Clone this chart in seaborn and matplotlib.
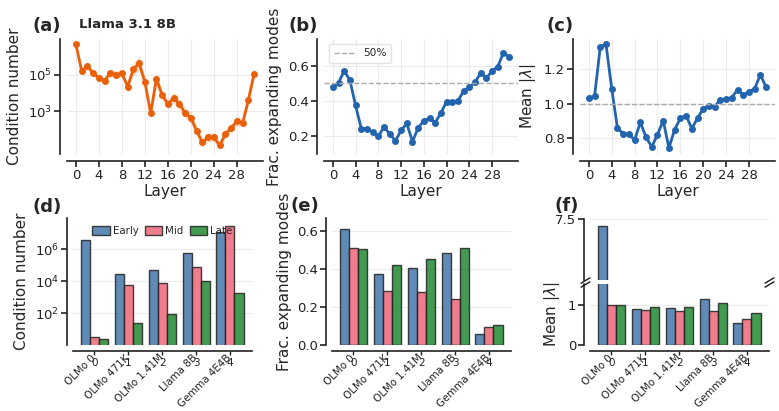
import numpy as np
import pandas as pd
import matplotlib
matplotlib.use("Agg")
import matplotlib.pyplot as plt
from matplotlib.ticker import NullLocator
import seaborn as sns

# ---------------- data ----------------
layers = list(range(32))
cond_number = [4.9e6, 1.66e5, 3.2e5, 1.23e5, 7.1e4, 4.9e4, 1.35e5, 1.05e5, 1.23e5, 2.3e4,
               2.1e5, 4.4e5, 4.1e4, 780, 6.0e4, 7.9e3, 2.5e3, 5.4e3, 2.6e3, 810,
               450, 85, 19.5, 37, 38, 13.5, 56, 120, 280, 220, 4.2e3, 1.17e5]
cond_spread_dex = [0.1, 0.2, 0.2, 0.15, 0.15, 0.15, 0.2, 0.2, 0.2, 0.2,
                   0.35, 0.4, 0.3, 0.25, 0.4, 0.25, 0.25, 0.3, 0.3, 0.3,
                   0.3, 0.3, 0.25, 0.25, 0.25, 0.2, 0.25, 0.25, 0.25, 0.2, 0.3, 0.35]
frac_expanding = [0.476, 0.503, 0.570, 0.518, 0.373, 0.24, 0.24, 0.22, 0.196, 0.25,
                  0.21, 0.17, 0.23, 0.27, 0.166, 0.245, 0.285, 0.30, 0.275, 0.33,
                  0.395, 0.393, 0.40, 0.455, 0.478, 0.505, 0.56, 0.53, 0.57, 0.595, 0.675, 0.65]
mean_lambda = [1.033, 1.044, 1.329, 1.342, 1.085, 0.858, 0.827, 0.823, 0.790, 0.892,
               0.806, 0.750, 0.821, 0.902, 0.744, 0.850, 0.915, 0.931, 0.856, 0.915,
               0.971, 0.988, 0.983, 1.023, 1.025, 1.035, 1.081, 1.050, 1.069, 1.087, 1.167, 1.094]

models = ["OLMo 0", "OLMo 471K", "OLMo 1.41M", "Llama 8B", "Gemma 4E4B"]
periods = ["Early", "Mid", "Late"]
bar_cond_early = [3.6e6, 2.6e4, 4.7e4, 5.4e5, 1.2e7]
bar_cond_mid = [3.2, 5.6e3, 7.7e3, 7.2e4, 2.6e7]
bar_cond_late = [2.4, 25, 90, 1.0e4, 1.9e3]
bar_frac_early = [0.614, 0.372, 0.407, 0.487, 0.060]
bar_frac_mid = [0.511, 0.285, 0.281, 0.241, 0.094]
bar_frac_late = [0.508, 0.421, 0.453, 0.514, 0.106]
bar_lam_early = [7.1, 0.90, 0.91, 1.15, 0.55]
bar_lam_mid = [1.0, 0.86, 0.84, 0.84, 0.65]
bar_lam_late = [1.0, 0.95, 0.95, 1.04, 0.79]

# ---------------- style ----------------
sns.set_theme(style="ticks")
plt.rcParams["font.family"] = ["DejaVu Sans"]
plt.rcParams["axes.edgecolor"] = "#222222"
plt.rcParams["axes.linewidth"] = 1.2
plt.rcParams["xtick.color"] = "#222222"
plt.rcParams["ytick.color"] = "#222222"
plt.rcParams["grid.color"] = "#ebebeb"
plt.rcParams["grid.linewidth"] = 0.8

ORANGE = "#e8600a"
BLUE = "#2264ad"
bar_pal = {"Early": "#4477AA", "Mid": "#EE6677", "Late": "#228833"}

W, H = 779, 411
fig = plt.figure(figsize=(W / 100, H / 100), dpi=100)


def ax_px(l, t, r, b):
    return fig.add_axes([l / W, 1 - b / H, (r - l) / W, (b - t) / H])


TICK_FS = 9.5
LAB_FS = 11

# ---------------- top row ----------------
df_line = pd.DataFrame({"layer": layers, "cond": cond_number, "frac": frac_expanding,
                        "lam": mean_lambda, "spread": cond_spread_dex})

axa = ax_px(67, 39, 263, 154)
axa.set_yscale("log")
lo = df_line["cond"] / 10 ** df_line["spread"]
hi = df_line["cond"] * 10 ** df_line["spread"]
axa.fill_between(df_line["layer"], lo, hi, color=ORANGE, alpha=0.2, lw=0)
sns.lineplot(data=df_line, x="layer", y="cond", ax=axa, color=ORANGE, marker="o",
             markersize=5, markeredgewidth=0, lw=2)
axa.set_ylim(4.5, 9.5e6)
axa.set_yticks([1e3, 1e5])
axa.yaxis.set_minor_locator(NullLocator())
axa.set_ylabel("Condition number", fontsize=LAB_FS)

axb = ax_px(324, 39, 518, 154)
sns.lineplot(data=df_line, x="layer", y="frac", ax=axb, color=BLUE, marker="o",
             markersize=5, markeredgewidth=0, lw=2)
axb.axhline(0.5, ls="--", color="#aaaaaa", lw=1, label="50%")
axb.set_ylim(0.095, 0.753)
axb.set_yticks([0.2, 0.4, 0.6])
axb.set_ylabel("Frac. expanding modes", fontsize=LAB_FS)
leg = axb.legend(handles=[axb.lines[-1]], labels=["50%"], loc="upper left", fontsize=7.6,
                 frameon=True, handlelength=2.0, borderpad=0.4, fancybox=True)
leg.get_frame().set_edgecolor("#dddddd")

axc = ax_px(580, 39, 775, 154)
sns.lineplot(data=df_line, x="layer", y="lam", ax=axc, color=BLUE, marker="o",
             markersize=5, markeredgewidth=0, lw=2)
axc.axhline(1.0, ls="--", color="#aaaaaa", lw=1)
axc.set_ylim(0.709, 1.373)
axc.set_yticks([0.8, 1.0, 1.2])
axc.set_ylabel(r"Mean $|\lambda|$", fontsize=LAB_FS)

for ax in (axa, axb, axc):
    sns.despine(ax=ax, offset=5)
    ax.set_xticks(range(0, 29, 4))
    ax.set_xlim(-1.55, 32.55)
    ax.grid(True, which="major")
    ax.set_axisbelow(True)
    ax.set_xlabel("Layer", fontsize=LAB_FS, labelpad=1)
    ax.tick_params(labelsize=TICK_FS, length=4, width=1.2, pad=2)

fig.text(79 / W, 1 - 18 / H, "Llama 3.1 8B", fontsize=9.5, fontweight="bold", va="top")

# ---------------- bottom row ----------------
def long_df(e, m, l):
    rows = []
    for i, mod in enumerate(models):
        rows += [(mod, "Early", e[i]), (mod, "Mid", m[i]), (mod, "Late", l[i])]
    return pd.DataFrame(rows, columns=["model", "period", "value"])


df_cond = long_df(bar_cond_early, bar_cond_mid, bar_cond_late)
df_frac = long_df(bar_frac_early, bar_frac_mid, bar_frac_late)
df_lam = long_df(bar_lam_early, bar_lam_mid, bar_lam_late)

bar_kw = dict(x="model", y="value", hue="period", hue_order=periods, order=models,
              palette=bar_pal, alpha=0.85, edgecolor="#222222", linewidth=1.0,
              errorbar=None, saturation=1)


def bar_xaxis(ax):
    sns.despine(ax=ax, offset=4)
    ax.xaxis.remove_overlapping_locs = False
    ax.set_xlim(-0.63, 4.65)
    ax.tick_params(axis="x", which="major", length=3, width=1, pad=2)
    ax.tick_params(axis="x", which="minor", length=0, pad=4)
    ax.tick_params(axis="y", labelsize=TICK_FS, length=4, width=1.2, pad=2)
    ax.set_xticks(range(5))
    ax.set_xticklabels([str(i) for i in range(5)], fontsize=7.5)
    ax.set_xticks(range(5), minor=True)
    ax.set_xticklabels(models, minor=True, rotation=45, ha="right", va="center",
                       rotation_mode="anchor", fontsize=7.4)
    ax.set_xlabel("")
    ax.grid(True, axis="y")
    ax.set_axisbelow(True)


axd = ax_px(73, 218, 252, 345)
sns.barplot(data=df_cond, ax=axd, **bar_kw)
axd.set_yscale("log")
axd.set_ylim(1, 8.7e7)
axd.set_yticks([1e2, 1e4, 1e6])
axd.yaxis.set_minor_locator(NullLocator())
axd.set_ylabel("Condition number", fontsize=LAB_FS)
bar_xaxis(axd)
axd.legend(ncol=3, loc="upper center", frameon=False, fontsize=7.4, handlelength=1.7,
           handleheight=0.9, columnspacing=0.6, handletextpad=0.3, borderaxespad=0.4)

axe = ax_px(332, 218, 511, 345)
sns.barplot(data=df_frac, ax=axe, legend=False, **bar_kw)
axe.set_ylim(0, 0.67)
axe.set_yticks([0.0, 0.2, 0.4, 0.6])
axe.set_ylabel("Frac. expanding modes", fontsize=LAB_FS)
bar_xaxis(axe)

axf_top = ax_px(590, 219, 769, 280)
axf = ax_px(590, 284, 769, 345)
sns.barplot(data=df_lam, ax=axf_top, legend=False, **bar_kw)
sns.barplot(data=df_lam, ax=axf, legend=False, **bar_kw)
sns.despine(ax=axf_top, bottom=True, offset=4)
axf_top.set_ylim(4, 7.5)
axf_top.set_yticks([7.5])
axf_top.set_xlim(-0.63, 4.65)
axf_top.set_xticks([])
axf_top.set_xlabel("")
axf_top.set_ylabel("")
axf_top.grid(True, axis="y")
axf_top.set_axisbelow(True)
axf_top.tick_params(axis="y", labelsize=TICK_FS, length=4, width=1.2, pad=2)
axf.set_ylim(0, 1.52)
axf.set_yticks([0, 1])
axf.set_ylabel(r"Mean $|\lambda|$", fontsize=LAB_FS)
bar_xaxis(axf)

mk = dict(marker=[(-1, -0.6), (1, 0.6)], markersize=7, linestyle="none", color="k",
          mec="k", mew=1, clip_on=False)
axf_top.plot([-0.03, 1.0], [0, 0], transform=axf_top.transAxes, **mk)
axf.plot([-0.03, 1.0], [1, 1], transform=axf.transAxes, **mk)

# ---------------- panel labels ----------------
for x, y, s in [(33, 17, "(a)"), (288, 17, "(b)"), (547, 17, "(c)"),
                (33, 198, "(d)"), (291, 197, "(e)"), (554, 197, "(f)")]:
    fig.text(x / W, 1 - y / H, s, fontsize=13, fontweight="bold", va="top", ha="left")

fig.savefig("out.png", dpi=100)
